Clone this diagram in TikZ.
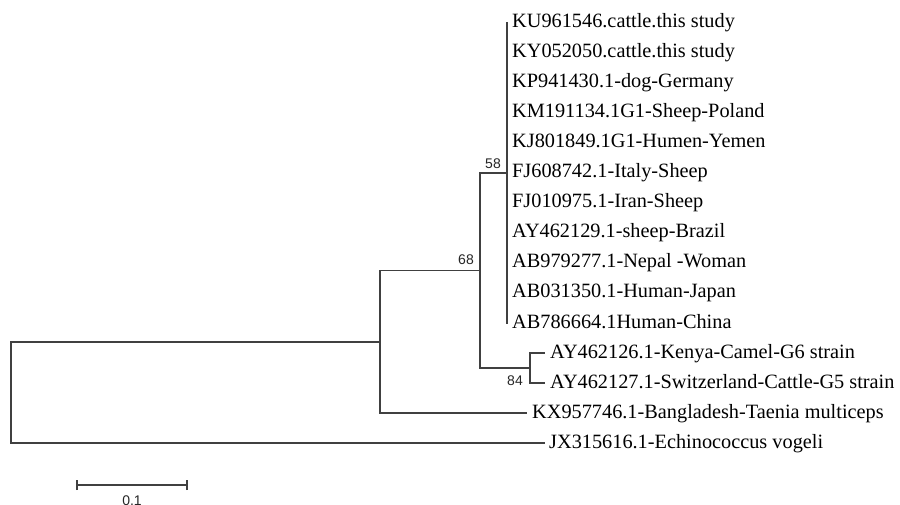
\documentclass[tikz,border=0pt]{standalone}
\usepackage{fontspec}
\setmainfont{Liberation Serif}
\newfontfamily\labfont{Liberation Sans}
\begin{document}
\begin{tikzpicture}[x=1pt,y=-1pt,
  br/.style={draw=black!75, line width=1.3pt, line cap=rect},
  leaf/.style={anchor=base west, inner sep=0pt, font=\fontsize{20.3}{24}\selectfont},
  sup/.style={inner sep=0pt, font=\labfont\fontsize{14}{16}\selectfont, text=black!85}]
\useasboundingbox (0,0) rectangle (900,505);
% internal nodes
\coordinate (r) at (11,342);
\coordinate (n1) at (380,342);
\coordinate (n68) at (480,270.5);
\coordinate (n58) at (507,173);
\coordinate (n84) at (530,368);
% clade leaves
\foreach \i/\y/\t in {1/23/KU961546.cattle.this study,
  2/53/KY052050.cattle.this study,
  3/83/KP941430.1-dog-Germany,
  4/113/KM191134.1G1-Sheep-Poland,
  5/143/KJ801849.1G1-Humen-Yemen,
  6/173/FJ608742.1-Italy-Sheep,
  7/203/FJ010975.1-Iran-Sheep,
  8/233/AY462129.1-sheep-Brazil,
  9/263/AB979277.1-Nepal -Woman,
  10/293/AB031350.1-Human-Japan,
  11/323/AB786664.1Human-China}{
  \coordinate (c\i) at (507,\y);
  \node[leaf] (L\i) at (512,\y+5) {\t};
}
\coordinate (t1) at (544,353);
\coordinate (t2) at (544,383);
\coordinate (kx) at (526,413);
\coordinate (jx) at (544,443);
\node[leaf] (LA) at (550,358) {AY462126.1-Kenya-Camel-G6 strain};
\node[leaf] (LB) at (550,388) {AY462127.1-Switzerland-Cattle-G5 strain};
\node[leaf] (LKX) at (532,418) {KX957746.1-Bangladesh-Taenia multiceps};
\node[leaf] (LJX) at (549,448) {JX315616.1-Echinococcus vogeli};
% branches
\draw[br] (r) |- (n1);
\draw[br] (r) |- (jx);
\draw[br] (n1) |- (n68);
\draw[br] (n1) |- (kx);
\draw[br] (n68) |- (n58);
\draw[br] (n68) |- (n84);
\draw[br] (c1) -- (c11);
\draw[br] (n84) |- (t1);
\draw[br] (n84) |- (t2);
% support values
\node[sup, anchor=south east] (s58) at (501,169) {58};
\node[sup, anchor=south east] (s68) at (474,265) {68};
\node[sup, anchor=north east] (s84) at (523,376) {84};
% scale bar
\coordinate (sb1) at (77,485);
\coordinate (sb2) at (187,485);
\draw[br, line cap=butt] (sb1) -- (sb2);
\draw[br, line cap=butt] ([yshift=-5pt]sb1) -- ([yshift=5pt]sb1);
\draw[br, line cap=butt] ([yshift=-5pt]sb2) -- ([yshift=5pt]sb2);
\node[sup, anchor=north] (sbl) at (132,496) {0.1};
\end{tikzpicture}
\end{document}
